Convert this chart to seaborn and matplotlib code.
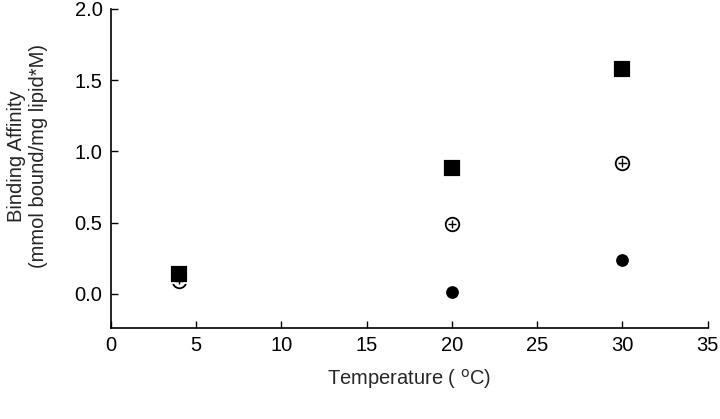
#!/usr/bin/env python3

from matplotlib import pyplot as plt
import numpy as np
import pandas as pd
import seaborn as sns

temps = [4, 20, 30]
filled_square = [0.14, 0.88, 1.58]
open_circle = [0.09, 0.49, 0.92]
filled_circle = [0.12, 0.01, 0.24]
err_square = [0.03, 0.02, 0.02]
err_open = [0.02, 0.03, 0.03]
err_circle = [0.01, 0.02, 0.02]

x_ticks = [0, 5, 10, 15, 20, 25, 30, 35]
y_ticks = [0.0, 0.5, 1.0, 1.5, 2.0]


def main():
    sns.set_theme(style="ticks")
    plt.rcParams["font.family"] = ["Liberation Sans", "DejaVu Sans"]

    df = pd.DataFrame({
        "temp": temps * 3,
        "value": filled_circle + open_circle + filled_square,
        "err": err_circle + err_open + err_square,
        "series": ["fc"] * 3 + ["oc"] * 3 + ["fs"] * 3,
    })

    fig = plt.figure(figsize=(7.2, 4.19), dpi=100)
    ax = fig.add_axes([0.154, 0.217, 0.829, 0.762])

    # Error bars first, markers on top
    for s in ["fc", "oc", "fs"]:
        d = df[df["series"] == s]
        ax.errorbar(d["temp"], d["value"], yerr=d["err"], fmt="none",
                    ecolor="black", elinewidth=1, capsize=3, capthick=1,
                    zorder=2)

    styles = {
        "fc": dict(marker="o", s=110, color="black"),
        "oc": dict(marker="o", s=95, facecolor="white", edgecolor="black"),
        "fs": dict(marker="s", s=150, color="black"),
    }
    for s in ["fc", "oc", "fs"]:
        d = df[df["series"] == s]
        sns.scatterplot(data=d, x="temp", y="value", ax=ax, linewidth=1.3,
                        zorder=3, legend=False, **styles[s])

    # Crosshair inside open circles
    d = df[df["series"] == "oc"]
    ax.errorbar(d["temp"], d["value"], yerr=d["err"], xerr=0.25, fmt="none",
                ecolor="black", elinewidth=1, zorder=4)

    ax.set_xlim(0, 35)
    ax.set_ylim(-0.24, 2.0)
    ax.set_xticks(x_ticks)
    ax.set_yticks(y_ticks)
    ax.set_yticklabels([f"{v:.1f}" for v in y_ticks])
    ax.tick_params(direction="in", length=5, width=1, labelsize=14.5,
                   colors="black", pad=6)
    sns.despine(ax=ax)
    for sp in ["left", "bottom"]:
        ax.spines[sp].set_linewidth(1.2)
        ax.spines[sp].set_color("black")

    ax.set_xlabel("Temperature ( $^{\\mathrm{o}}$C)", fontsize=14.5,
                  labelpad=8)
    ax.set_ylabel("Binding Affinity\n(mmol bound/mg lipid*M)", fontsize=14.5)
    ax.yaxis.set_label_coords(-0.106, 0.54)

    plt.savefig("out.png", dpi=100)


if __name__ == "__main__":
    main()
